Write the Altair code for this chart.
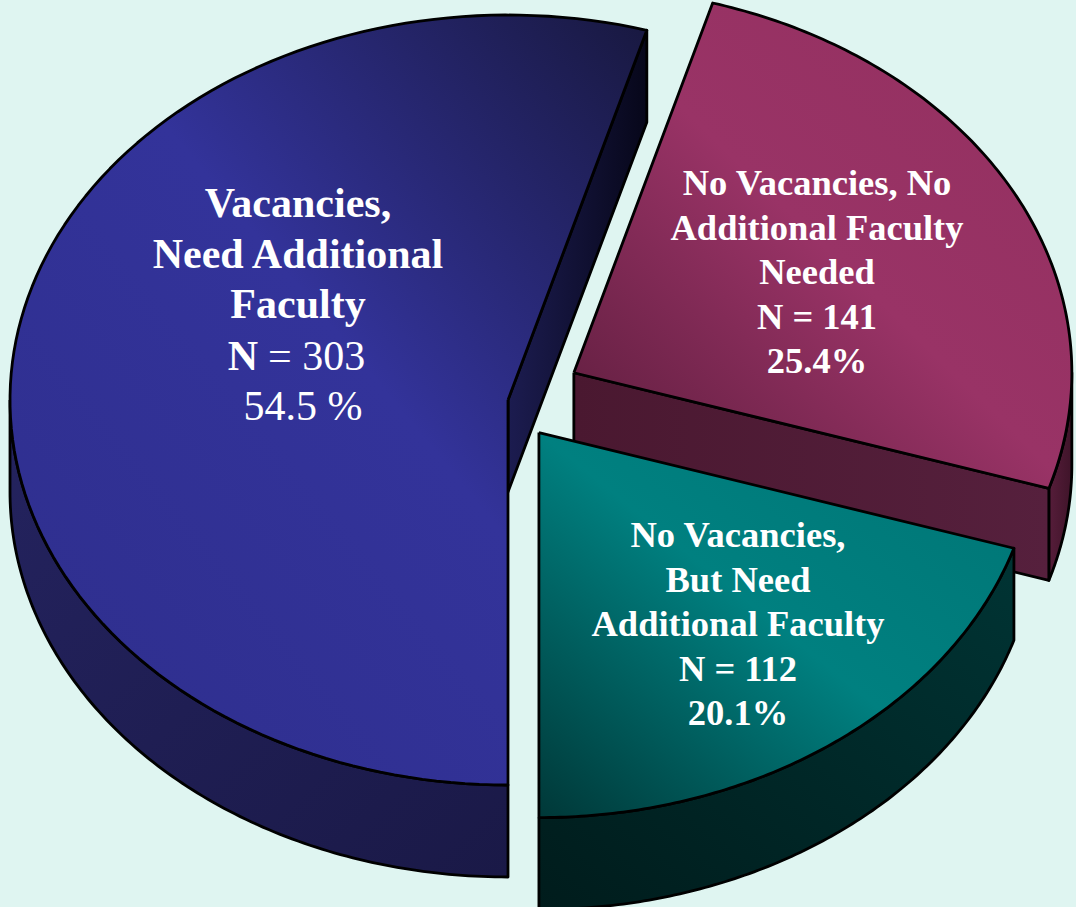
import altair as alt
import pandas as pd

# ---------------- data ----------------
categories = ["Vacancies, Need Additional Faculty",
              "No Vacancies, No Additional Faculty Needed",
              "No Vacancies, But Need Additional Faculty"]
counts = [303, 141, 112]
percent_labels = ["54.5 %", "25.4%", "20.1%"]
label_names = ["Vacancies,\nNeed Additional\nFaculty",
               "No Vacancies, No\nAdditional Faculty\nNeeded",
               "No Vacancies,\nBut Need\nAdditional Faculty"]
explode = [0.0, 0.15, 0.105]

# ---------------- layout / style ----------------
W, H = 1076, 907
CX, CY = 508, 400          # pie centre (unexploded)
RX, RY = 498, 385          # ellipse semi-axes of the top face
DEPTH = 92                 # thickness of the pie
START = 270                # first slice starts at the bottom, runs clockwise
NPTS = 120
BG = "#dff5f1"
FONT = "Liberation Serif"

def grad(stops, x1, y1, x2, y2):
    return alt.Gradient(gradient="linear",
                        stops=[alt.GradientStop(color=c, offset=o) for o, c in stops],
                        x1=x1, y1=y1, x2=x2, y2=y2)

top_fill = [
    grad([(0, "#18183f"), (0.45, "#33339a"), (1, "#2e2e8c")], 1, 0, 0, 1),
    grad([(0, "#5a1c3b"), (0.5, "#993366"), (1, "#93305f")], 0, 1, 1, 0),
    grad([(0, "#003838"), (0.5, "#008080"), (1, "#007575")], 0, 1, 1, 0),
]
wall_fill = [
    grad([(0, "#24235f"), (1, "#1a1947")], 0, 0, 1, 1),
    grad([(0, "#561d3a"), (1, "#3f1429")], 0, 0, 1, 0),
    grad([(0, "#001c1c"), (1, "#003434")], 0, 1, 1, 0),
]
face_fill = [
    grad([(0, "#1c1c50"), (1, "#07071a")], 0, 0, 1, 0),
    grad([(0, "#4a1830"), (1, "#56203d")], 0, 0, 1, 0),
    grad([(0, "#002828"), (1, "#002828")], 0, 0, 1, 0),
]

df = pd.DataFrame({"category": categories, "count": counts, "pct": percent_labels,
                   "name": label_names, "order": list(range(len(categories))),
                   "explode": explode})

X = alt.X("px:Q", scale=alt.Scale(domain=[0, W], nice=False, zero=False), axis=None)
Y = alt.Y("py:Q", scale=alt.Scale(domain=[0, H], reverse=True, nice=False, zero=False), axis=None)


def base(cat):
    return (alt.Chart(df)
            .transform_joinaggregate(total="sum(count)")
            .transform_window(cum="sum(count)", sort=[alt.SortField("order")], frame=[None, 0])
            .transform_calculate(t0=f"{START} - 360*(datum.cum - datum.count)/datum.total")
            .transform_calculate(t1=f"{START} - 360*datum.cum/datum.total")
            .transform_calculate(mid="(datum.t0 + datum.t1)/2")
            .transform_calculate(cx=f"{CX} + datum.explode*{RX}*cos(datum.mid*PI/180)")
            .transform_calculate(cy=f"{CY} - datum.explode*{RY}*sin(datum.mid*PI/180)")
            .transform_filter(alt.datum.category == cat))


def poly(chart, fill):
    return chart.mark_line(fill=fill, stroke="black", strokeWidth=2.8,
                           strokeJoin="round").encode(x=X, y=Y, order="idx:Q")


def top_layer(cat, fill):
    M = NPTS
    c = (base(cat)
         .transform_calculate(idx=f"sequence(0, {M + 2})")
         .transform_flatten(["idx"])
         .transform_calculate(ang=f"datum.t0 + (datum.t1 - datum.t0)*(datum.idx - 1)/({M} - 1)")
         .transform_calculate(px=f"(datum.idx == 0 || datum.idx == {M + 1}) ? datum.cx : datum.cx + {RX}*cos(datum.ang*PI/180)")
         .transform_calculate(py=f"(datum.idx == 0 || datum.idx == {M + 1}) ? datum.cy : datum.cy - {RY}*sin(datum.ang*PI/180)"))
    return poly(c, fill)


def wall_layer(cat, fill):
    M = NPTS
    c = (base(cat)
         .transform_calculate(vlo="max(datum.t1, datum.t0 > 180 ? 180 : -180)")
         .transform_calculate(vhi="min(datum.t0, datum.t0 > 180 ? 360 : 0)")
         .transform_filter("datum.vhi > datum.vlo")
         .transform_calculate(idx=f"sequence(0, {2 * M + 1})")
         .transform_flatten(["idx"])
         .transform_calculate(ang=f"datum.idx < {M} ? datum.vlo + (datum.vhi - datum.vlo)*datum.idx/({M} - 1) : "
                                  f"(datum.idx < {2 * M} ? datum.vhi - (datum.vhi - datum.vlo)*(datum.idx - {M})/({M} - 1) : datum.vlo)")
         .transform_calculate(off=f"(datum.idx >= {M} && datum.idx < {2 * M}) ? {DEPTH} : 0")
         .transform_calculate(px=f"datum.cx + {RX}*cos(datum.ang*PI/180)")
         .transform_calculate(py=f"datum.cy - {RY}*sin(datum.ang*PI/180) + datum.off"))
    return poly(c, fill)


def face_layer(cat, fill):
    c = (base(cat)
         .transform_filter("cos(datum.t1*PI/180) > 0.01")
         .transform_calculate(idx="sequence(0, 5)")
         .transform_flatten(["idx"])
         .transform_calculate(edge="datum.idx == 1 || datum.idx == 2")
         .transform_calculate(px=f"datum.edge ? datum.cx + {RX}*cos(datum.t1*PI/180) : datum.cx")
         .transform_calculate(py=f"(datum.edge ? datum.cy - {RY}*sin(datum.t1*PI/180) : datum.cy)"
                                 f" + ((datum.idx == 2 || datum.idx == 3) ? {DEPTH} : 0)"))
    return poly(c, fill)


def text_layer(cat, field, x, y, size, bold=True, align="center", line_h=None, expr=None):
    c = base(cat)
    if expr is not None:
        c = c.transform_calculate(lbl=expr)
        field = "lbl"
    kw = dict(font=FONT, fontSize=size, fontWeight="bold" if bold else "normal",
              color="white", align=align, baseline="alphabetic", lineBreak="\n")
    if line_h:
        kw["lineHeight"] = line_h
    return c.mark_text(**kw).encode(x=alt.value(x), y=alt.value(y), text=alt.Text(f"{field}:N"))


layers = []
# painter's order: back-right slice first, then the big slice, then the front slice
for i in [1, 0, 2]:
    cat = categories[i]
    layers += [wall_layer(cat, wall_fill[i]), face_layer(cat, face_fill[i]), top_layer(cat, top_fill[i])]

# labels
layers += [
    text_layer(categories[0], "name", 298, 217, 42, True, line_h=50.5),
    text_layer(categories[0], "", 258, 370, 42, True, align="right", expr="'N'"),
    text_layer(categories[0], "", 268, 370, 42, False, align="left", expr="'= ' + datum.count"),
    text_layer(categories[0], "pct", 303, 420, 42, False),
    text_layer(categories[1], "", 817, 195, 36.5, True, line_h=44.5,
               expr="datum.name + '\\nN = ' + datum.count + '\\n' + datum.pct"),
    text_layer(categories[2], "", 738, 547, 36.5, True, line_h=44.5,
               expr="datum.name + '\\nN = ' + datum.count + '\\n' + datum.pct"),
]

chart = (alt.layer(*layers)
         .properties(width=W, height=H, background=BG, padding=0, autosize="none")
         .configure_view(stroke=None))

chart.save("out.html", embed_options={"renderer": "svg", "actions": False})
